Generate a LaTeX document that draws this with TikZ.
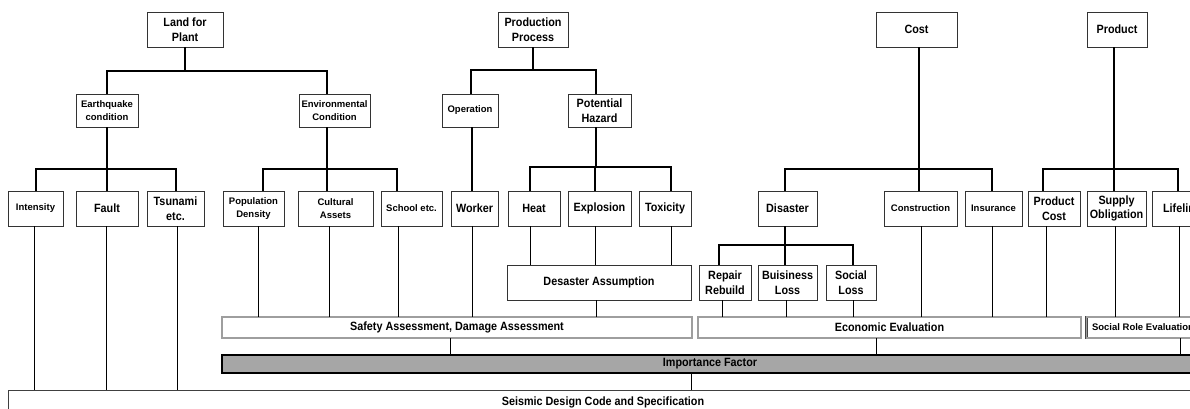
\documentclass[tikz,border=0pt]{standalone}
\usepackage{fontspec}
\setmainfont{Liberation Sans}
\newfontfamily\labfont{Liberation Sans}[FakeStretch=0.9]
\newcommand\bigtext{\labfont\bfseries\fontsize{12}{14.5}\selectfont}
\newcommand\smalltext{\normalfont\bfseries\fontsize{9.5}{13}\selectfont}

\tikzset{
  box/.style={draw=black!80, line width=0.8pt, fill=white, inner sep=0pt,
    align=center, font=\bigtext},
  sbox/.style={box, font=\smalltext},
  dim/.style 2 args={minimum width=#1, minimum height=#2},
  evalbox/.style={draw=black!72, double=black!38, double distance=1.1pt,
    line width=0.8pt, fill=white, inner sep=0pt, align=center, font=\bigtext},
  impbox/.style={draw=black, line width=1.4pt, fill=black!35, inner sep=0pt,
    align=center, font=\bigtext},
  basebox/.style={draw=black!75, line width=0.8pt, fill=white, inner sep=0pt,
    align=center, font=\bigtext},
  fork/.style={line width=1.6pt, line join=miter},
  dropline/.style={line width=1pt},
}

% parent node, x of its stem, y of the bar, list of x/child
\newcommand\treefork[4]{%
  \draw[fork] (#1.south -| #2,0) -- (#2,#3);
  \foreach \cx/\ch in {#4} {\draw[fork] (#2,#3) -| (\ch.north -| \cx,0);}
}
% vertical line from one node down to another at a given x
\newcommand\dropto[3]{\draw[dropline] (#1.south -| #3,0) -- (#2.north -| #3,0);}

\begin{document}
\begin{tikzpicture}[x=1pt,y=-1pt]
\useasboundingbox (0,0) rectangle (1190,409);
\fill[white] (0,0) rectangle (1190,409);
\clip (0,0) rectangle (1190,409);

% top level
\node[box, dim={76}{35}] (land)    at (185,29.5)  {Land for\\Plant};
\node[box, dim={70}{35}] (prod)    at (533,29.5)  {Production\\Process};
\node[box, dim={81}{35}] (cost)    at (916.5,29.5) {Cost};
\node[box, dim={60}{35}] (product) at (1117,29.5) {Product};

% second level
\node[sbox, dim={62}{33}] (eq)   at (107,110.5)   {Earthquake\\condition};
\node[sbox, dim={71}{33}] (env)  at (334.5,110.5) {Environmental\\Condition};
\node[sbox, dim={56}{33}] (oper) at (470,110.5)   {Operation};
\node[box,  dim={63}{33}] (pot)  at (599.5,110.5) {Potential\\Hazard};

% third level
\node[sbox, dim={55}{35}] (int)    at (35.5,208.5)   {Intensity};
\node[box,  dim={62}{35}] (fault)  at (107,208.5)    {Fault};
\node[box,  dim={57}{35}] (tsu)    at (175.5,208.5)  {Tsunami\\etc.};
\node[sbox, dim={61}{35}] (pop)    at (253.5,208.5)  {Population\\Density};
\node[sbox, dim={75}{35}] (cult)   at (335.5,208.5)  {Cultural\\Assets};
\node[sbox, dim={61}{35}] (school) at (411.5,208.5)  {School etc.};
\node[box,  dim={47}{35}] (worker) at (474.5,208.5)  {Worker};
\node[box,  dim={52}{35}] (heat)   at (534,208.5)    {Heat};
\node[box,  dim={63}{35}] (expl)   at (599.5,208.5)  {Explosion};
\node[box,  dim={52}{35}] (tox)    at (665,208.5)    {Toxicity};
\node[box,  dim={59}{35}] (dis)    at (787.5,208.5)  {Disaster};
\node[sbox, dim={73}{35}] (constr) at (920.5,208.5)  {Construction};
\node[sbox, dim={57}{35}] (ins)    at (993.5,208.5)  {Insurance};
\node[box,  dim={52}{35}] (pcost)  at (1054,208.5)   {Product\\Cost};
\node[box,  dim={59}{35}] (supply) at (1116.5,208.5) {Supply\\Obligation};
\node[box,  dim={60}{35}] (life)   at (1182,208.5)   {Lifeline};

% fourth level
\node[box, dim={184}{35}] (desa)   at (599,282.5)   {Desaster Assumption};
\node[box, dim={52}{35}]  (repair) at (725,282.5)   {Repair\\Rebuild};
\node[box, dim={59}{35}]  (bus)    at (787.5,282.5) {Buisiness\\Loss};
\node[box, dim={50}{35}]  (soc)    at (851,282.5)   {Social\\Loss};

% evaluations
\node[evalbox, dim={470}{21}] (safety) at (457,327.5) {Safety Assessment, Damage Assessment};
\node[evalbox, dim={383}{21}] (econ)   at (889.5,327.5) {Economic Evaluation};
\node[evalbox, dim={113}{21}, font=\smalltext] (socrole) at (1143,327.5) {Social Role Evaluation};

\node[impbox, dim={976}{18}]   (imp)  at (710,364) {Importance Factor};
\node[basebox, dim={1190}{24}] (seis) at (603,402) {Seismic Design Code and Specification};

% tree connectors
\treefork{land}{185}{71}{107/eq, 327/env}
\treefork{prod}{533}{70}{471/oper, 596/pot}
\treefork{eq}{107}{169}{36/int, 107/fault, 176/tsu}
\treefork{env}{327}{169}{263/pop, 327/cult, 397/school}
\treefork{pot}{596}{167}{530/heat, 595/expl, 671/tox}
\draw[fork] (oper.south -| 472,0) -- (worker.north -| 472,0);
\treefork{cost}{919}{169}{785/dis, 919/constr, 992/ins}
\treefork{product}{1114}{169}{1043/pcost, 1114/supply, 1178/life}
\treefork{dis}{785}{245}{719/repair, 785/bus, 853/soc}

% lines down to the assessments
\dropto{int}{seis}{34}
\dropto{fault}{seis}{106}
\dropto{tsu}{seis}{177}
\dropto{pop}{safety}{258}
\dropto{cult}{safety}{329}
\dropto{school}{safety}{398}
\dropto{worker}{safety}{472}
\dropto{heat}{desa}{530}
\dropto{expl}{desa}{595}
\dropto{tox}{desa}{671}
\dropto{desa}{safety}{596}
\dropto{repair}{econ}{722}
\dropto{bus}{econ}{786}
\dropto{soc}{econ}{853}
\dropto{constr}{econ}{921}
\dropto{ins}{econ}{992}
\dropto{pcost}{econ}{1046}
\dropto{supply}{socrole}{1115}
\dropto{life}{socrole}{1179}
\dropto{safety}{imp}{450}
\dropto{econ}{imp}{876}
\dropto{socrole}{imp}{1180}
\dropto{imp}{seis}{691}
\end{tikzpicture}
\end{document}
